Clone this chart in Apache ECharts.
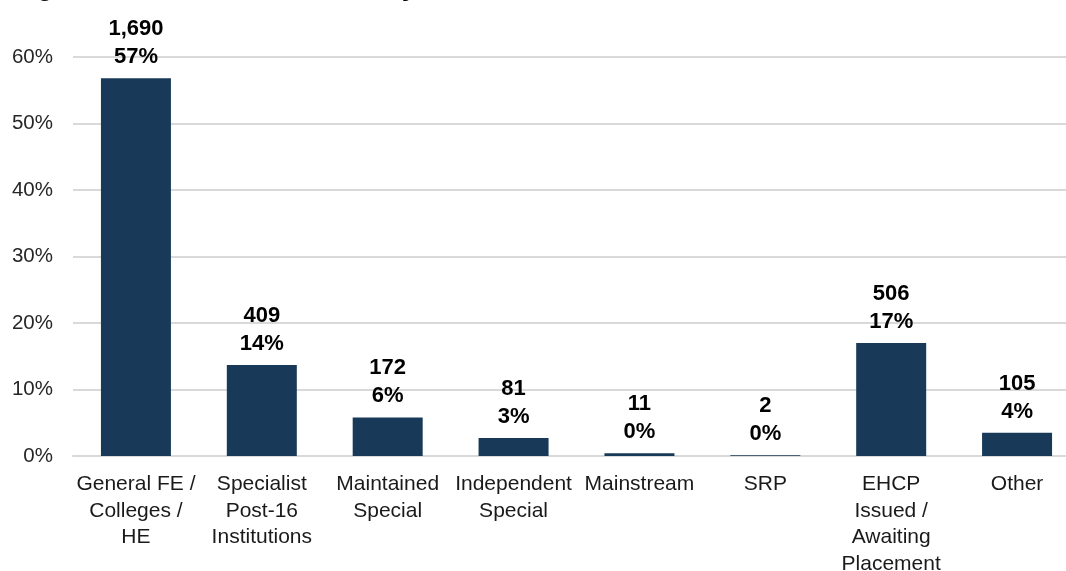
<!DOCTYPE html>
<html>
<head>
<meta charset="utf-8">
<script src="https://cdn.jsdelivr.net/npm/echarts@6/dist/echarts.min.js"></script>
<style>
html,body{margin:0;padding:0;background:#fff;}
#chart{width:1066px;height:571px;}
</style>
</head>
<body>
<div id="chart"></div>
<script>
var categories = ['General FE /\nColleges /\nHE', 'Specialist\nPost-16\nInstitutions', 'Maintained\nSpecial', 'Independent\nSpecial', 'Mainstream', 'SRP', 'EHCP\nIssued /\nAwaiting\nPlacement', 'Other'];
var percentages = [56.8, 13.7, 5.8, 2.7, 0.4, 0.1, 17.0, 3.5];
var counts = ['1,690', '409', '172', '81', '11', '2', '506', '105'];
var pctLabels = ['57%', '14%', '6%', '3%', '0%', '0%', '17%', '4%'];
var yTicks = [0, 10, 20, 30, 40, 50, 60];

var chart = echarts.init(document.getElementById('chart'));
chart.setOption({
  animation: false,
  backgroundColor: '#fff',
  title: {
    text: 'Figure 6: Placements of 19-25 year olds with an EHCP who are educated in the LA',
    left: 8,
    top: -31,
    textStyle: {fontFamily: 'Liberation Sans', fontSize: 27, fontWeight: 'bold', color: '#000'}
  },
  grid: {left: 73, top: 57, bottom: 115, width: 1007, containLabel: false, outerBoundsMode: 'none'},
  xAxis: {
    type: 'category',
    data: categories,
    axisLine: {show: true, lineStyle: {color: '#d9d9d9', width: 2}},
    axisTick: {show: false},
    axisLabel: {
      interval: 0, margin: 15,
      fontFamily: 'Liberation Sans', fontSize: 21, lineHeight: 26.6, color: '#1a1a1a'
    }
  },
  yAxis: {
    type: 'value',
    min: yTicks[0], max: yTicks[yTicks.length - 1], interval: 10,
    axisLine: {show: false},
    axisTick: {show: false},
    splitLine: {lineStyle: {color: '#d9d9d9', width: 2}},
    axisLabel: {
      margin: 20, formatter: '{value}%',
      fontFamily: 'Liberation Sans', fontSize: 20.5, color: '#262626'
    }
  },
  series: [{
    type: 'bar',
    data: percentages,
    barWidth: 70,
    itemStyle: {color: '#183a58'},
    label: {
      show: true, position: 'top', distance: 7,
      fontFamily: 'Liberation Sans', fontSize: 22, fontWeight: 'bold', lineHeight: 28, color: '#000',
      formatter: function (p) { return counts[p.dataIndex] + '\n' + pctLabels[p.dataIndex]; }
    }
  }]
});
</script>
</body>
</html>
